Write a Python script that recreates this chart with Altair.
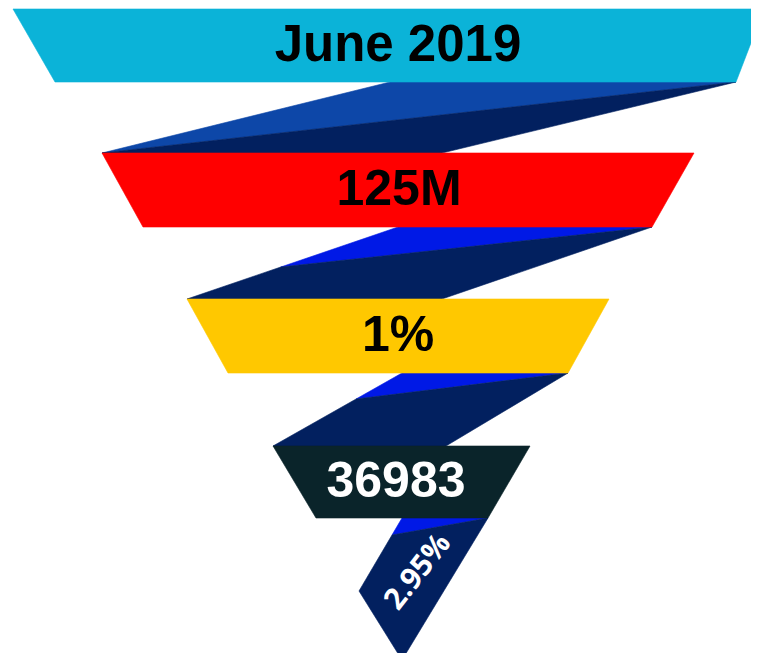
import altair as alt
import pandas as pd

# ---- stage labels ----
labels = ["June 2019", "125M", "1%", "36983"]
label_colors = ["#000000", "#000000", "#000000", "#ffffff"]
band_colors = ["#0BB3D8", "#FF0000", "#FFC800", "#0A242A"]
label_x = [398, 399, 398, 396]
font_sizes = [51, 50, 50, 50]

# ---- funnel outline (page pixel units) ----
band_top = [9, 153, 299, 446]
band_bottom = [82, 227, 373, 518]
top_left = [13, 102, 187, 273]
top_right = [764, 694, 609, 530]
bottom_left = [55, 143, 228, 316]
bottom_right = [736, 652, 568, 488]

# ribbons connecting the stages
ribbon_start = [390, 398, 402, 402]      # where ribbon leaves the upper band (left edge)
ribbon_end = [442, 442, 446]             # where ribbon meets the next band (right edge)
split_y = [153, 267, 399, 535]           # where the shading diagonal hits the left edge
light_colors = ["#0D47A8", "#0019E6", "#0019E6", "#0019E6"]
dark_color = "#02205F"
tip = (402, 660)
tip_knee = (359, 591)

final_label = "2.95%"
final_label_pos = (418, 572)


def lerp_x(p, q, y):
    (x0, y0), (x1, y1) = p, q
    return x0 + (x1 - x0) * (y - y0) / (y1 - y0)


def feature(color, verts):
    ring = [list(map(float, v)) for v in verts] + [list(map(float, verts[0]))]
    return {"type": "Feature", "properties": {"color": color},
            "geometry": {"type": "Polygon", "coordinates": [ring]}}


features = []
# ribbons between bands
for i in range(3):
    yt, yb = band_bottom[i], band_top[i + 1]
    A = (ribbon_start[i], yt)
    B = (bottom_right[i], yt)
    C = (top_left[i + 1], yb)
    D = (ribbon_end[i], yb)
    P = (lerp_x(A, C, split_y[i]), split_y[i])
    features.append(feature(light_colors[i], [A, B, P]))
    if split_y[i] == yb:
        features.append(feature(dark_color, [B, D, C]))
    else:
        features.append(feature(dark_color, [B, D, C, P]))

# final tail to the tip
yt = band_bottom[3]
A = (ribbon_start[3], yt)
B = (bottom_right[3], yt)
P = (lerp_x(A, tip_knee, split_y[3]), split_y[3])
features.append(feature(light_colors[3], [A, B, P]))
features.append(feature(dark_color, [B, tip, tip_knee, P]))

# bands
for i in range(4):
    features.append(feature(band_colors[i], [
        (top_left[i], band_top[i]), (top_right[i], band_top[i]),
        (bottom_right[i], band_bottom[i]), (bottom_left[i], band_bottom[i])]))

text_df = pd.DataFrame({
    "label": labels,
    "x": label_x,
    "y": [(t + b) / 2 for t, b in zip(band_top, band_bottom)],
    "color": label_colors,
    "size": font_sizes,
})
final_df = pd.DataFrame({"label": [final_label], "x": [final_label_pos[0]], "y": [final_label_pos[1]]})

# plot area fits inside the 759x661 page with its 8px margins
W, H = 743, 645
P_ARGS = dict(type="identity", scale=1, translate=[-8, -8])

shapes = alt.Chart(alt.Data(values=features)).mark_geoshape(strokeWidth=0.6).encode(
    color=alt.Color("properties.color:N", scale=None),
    stroke=alt.Stroke("properties.color:N", scale=None),
).project(**P_ARGS)

texts = alt.Chart(text_df).mark_text(
    font="Liberation Sans", fontWeight="bold", baseline="middle", align="center"
).encode(
    longitude="x:Q",
    latitude="y:Q",
    text="label:N",
    color=alt.Color("color:N", scale=None),
    size=alt.Size("size:Q", scale=None),
).project(**P_ARGS)

final_text = alt.Chart(final_df).mark_text(
    font="Open Sans", fontWeight="bold", fontSize=30, color="white",
    angle=308, baseline="middle", align="center"
).encode(
    longitude="x:Q",
    latitude="y:Q",
    text="label:N",
).project(**P_ARGS)

chart = alt.layer(shapes, texts, final_text).properties(
    width=W, height=H, padding=0, background="white",
    autosize=alt.AutoSizeParams(type="none"),
).configure_view(strokeWidth=0)

chart.save("out.html", embed_options={"renderer": "svg", "actions": False})
